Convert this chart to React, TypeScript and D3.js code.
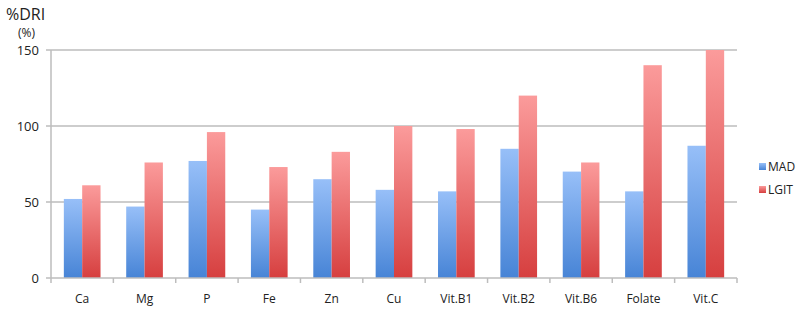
import React from "react";
import * as d3 from "d3";

const categories = ["Ca", "Mg", "P", "Fe", "Zn", "Cu", "Vit.B1", "Vit.B2", "Vit.B6", "Folate", "Vit.C"];
const seriesNames = ["MAD", "LGIT"];
const madValues = [52, 47, 77, 45, 65, 58, 57, 85, 70, 57, 87];
const lgitValues = [61, 76, 96, 73, 83, 100, 98, 120, 76, 140, 150];
const yTicks = [0, 50, 100, 150];

const W = 800;
const H = 312;
const left = 51;
const right = 737;
const top = 50;
const bottom = 278;

export default function App() {
  const x0 = d3.scaleBand<string>().domain(categories).range([left, right]).padding(0);
  const x1 = d3.scaleBand<string>().domain(seriesNames).range([0, x0.bandwidth()]).paddingInner(0).paddingOuter(0.7);
  const y = d3.scaleLinear().domain([0, 150]).range([bottom, top]);
  const series = [madValues, lgitValues];
  const fills = ["url(#gBlue)", "url(#gRed)"];
  const font = "'Open Sans', 'Noto Sans', sans-serif";

  return (
    <svg width={W} height={H} style={{ position: "absolute", left: 0, top: 0, background: "#fff" }} fontFamily={font}>
      <defs>
        <linearGradient id="gBlue" x1="0" y1="0" x2="0" y2="1">
          <stop offset="0" stopColor="#97bff8" />
          <stop offset="1" stopColor="#4784d6" />
        </linearGradient>
        <linearGradient id="gRed" x1="0" y1="0" x2="0" y2="1">
          <stop offset="0" stopColor="#fb9b9b" />
          <stop offset="1" stopColor="#d63f3f" />
        </linearGradient>
      </defs>
      {yTicks.map((t) => (
        <g key={t}>
          {t > 0 && <line x1={left} x2={right} y1={y(t)} y2={y(t)} stroke="#bdbdbd" strokeWidth={1.5} />}
          <line x1={left - 5} x2={left} y1={y(t)} y2={y(t)} stroke="#bdbdbd" strokeWidth={1.5} />
          <text x={39} y={y(t) + 5} textAnchor="end" fontSize={13} fill="#222">{t}</text>
        </g>
      ))}
      {categories.map((c, i) => (
        <g key={c}>
          {series.map((vals, s) => (
            <rect
              key={s}
              x={(x0(c) as number) + (x1(seriesNames[s]) as number)}
              y={y(vals[i])}
              width={x1.bandwidth()}
              height={bottom - y(vals[i])}
              fill={fills[s]}
            />
          ))}
          <text x={(x0(c) as number) + x0.bandwidth() / 2} y={303} textAnchor="middle" fontSize={12} fill="#222">{c}</text>
        </g>
      ))}
      <line x1={left} x2={right} y1={bottom} y2={bottom} stroke="#bdbdbd" strokeWidth={1.5} />
      <line x1={left} x2={left} y1={top} y2={bottom} stroke="#bdbdbd" strokeWidth={1.5} />
      {categories.map((c) => (
        <line key={"t" + c} x1={(x0(c) as number) + x0.bandwidth()} x2={(x0(c) as number) + x0.bandwidth()} y1={bottom} y2={bottom + 5} stroke="#bdbdbd" strokeWidth={1.5} />
      ))}
      <line x1={left} x2={left} y1={bottom} y2={bottom + 5} stroke="#bdbdbd" strokeWidth={1.5} />
      <text x={6} y={20} fontSize={16} fill="#222">%DRI</text>
      <text x={18} y={37} fontSize={12} fill="#222">(%)</text>
      {seriesNames.map((n, s) => (
        <g key={n}>
          <rect x={759} y={163 + s * 23} width={7} height={7} fill={fills[s]} />
          <text x={768} y={171 + s * 23} fontSize={12} fill="#222">{n}</text>
        </g>
      ))}
    </svg>
  );
}
